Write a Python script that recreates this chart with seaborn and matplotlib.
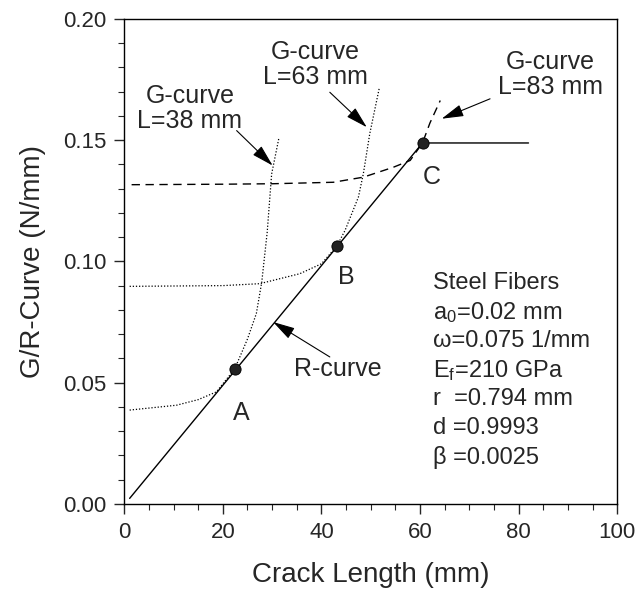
import numpy as np
import pandas as pd
import seaborn as sns
import matplotlib.pyplot as plt
from matplotlib.ticker import MultipleLocator, FormatStrFormatter

# R-curve (solid) and its plateau
r_x = [1.1, 60.5, 82.0]
r_y = [0.0023, 0.1488, 0.1488]

# G-curves
g38_x = [1.1, 10.6, 15.0, 18.7, 22.4, 25.0, 26.8, 27.9, 29.0, 29.9, 31.4]
g38_y = [0.0387, 0.0407, 0.0430, 0.0462, 0.0556, 0.0680, 0.0785, 0.0915, 0.112, 0.136, 0.1511]
g63_x = [1.1, 20.0, 27.5, 35.6, 40.0, 43.1, 44.8, 47.5, 48.5, 49.8, 51.7]
g63_y = [0.0897, 0.0900, 0.0908, 0.0949, 0.0990, 0.1062, 0.1128, 0.1265, 0.1361, 0.1526, 0.1711]
g83_x = [1.5, 20.0, 30.2, 42.4, 48.5, 54.6, 58.0, 60.5, 62.0, 64.1]
g83_y = [0.1316, 0.1318, 0.1320, 0.1326, 0.1347, 0.1388, 0.1416, 0.1488, 0.1570, 0.1663]

# instability points
pt_names = ["A", "B", "C"]
pt_x = [22.4, 43.1, 60.5]
pt_y = [0.0556, 0.1062, 0.1488]

params = ["Steel Fibers", "a$_0$=0.02 mm", "\u03c9=0.075 1/mm", "E$_f$=210 GPa",
          "r  =0.794 mm", "d =0.9993", "\u03b2 =0.0025"]

sns.set_style("ticks")
plt.rcParams['font.family'] = ['Liberation Sans', 'DejaVu Sans']
plt.rcParams['mathtext.fontset'] = 'custom'
plt.rcParams['mathtext.rm'] = 'Liberation Sans'
plt.rcParams['mathtext.it'] = 'Liberation Sans'

fig = plt.figure(figsize=(6.37, 6.05), dpi=100)
ax = fig.add_axes([0.195, 0.167, 0.774, 0.802])

sns.lineplot(x=r_x, y=r_y, ax=ax, color="black", lw=1.0, sort=False, estimator=None)
sns.lineplot(x=g38_x, y=g38_y, ax=ax, color="black", lw=0.9, ls=(0, (1, 1.5)), sort=False, estimator=None)
sns.lineplot(x=g63_x, y=g63_y, ax=ax, color="black", lw=0.9, ls=(0, (1, 1.5)), sort=False, estimator=None)
sns.lineplot(x=g83_x, y=g83_y, ax=ax, color="black", lw=1.0, ls=(0, (6, 4)), sort=False, estimator=None)
sns.scatterplot(x=pt_x, y=pt_y, ax=ax, color="#222222", s=65, edgecolor="black", zorder=5)

# point labels
lbl_off = [(1.4, -0.0183), (2.0, -0.0127), (1.9, -0.0141)]
for n, x, y, (dx, dy) in zip(pt_names, pt_x, pt_y, lbl_off):
    ax.text(x + dx, y + dy, n, fontsize=18, ha="center", va="center")

arrow = dict(arrowstyle="-|>,head_length=0.9,head_width=0.25", color="black", lw=0.8,
             shrinkA=0, shrinkB=0, mutation_scale=15)
ax.annotate("", xy=(30.1, 0.1395), xytext=(22.8, 0.1539), arrowprops=arrow)
ax.text(13.3, 0.1632, "G-curve\nL=38 mm", fontsize=18, ha="center", va="center", linespacing=1.05)
ax.annotate("", xy=(49.2, 0.1553), xytext=(41.7, 0.1697), arrowprops=arrow)
ax.text(38.8, 0.1810, "G-curve\nL=63 mm", fontsize=18, ha="center", va="center", linespacing=1.05)
ax.annotate("", xy=(64.4, 0.1588), xytext=(74.2, 0.1670), arrowprops=arrow)
ax.text(86.4, 0.1770, "G-curve\nL=83 mm", fontsize=18, ha="center", va="center", linespacing=1.05)
ax.annotate("", xy=(30.2, 0.0750), xytext=(41.7, 0.0606), arrowprops=arrow)
ax.text(43.4, 0.0558, "R-curve", fontsize=18, ha="center", va="center")

# parameter block
for i, s in enumerate(params):
    ax.text(62.7, 0.0910 - i * 0.01195, s, fontsize=17, ha="left", va="center")

ax.set_xlim(0, 100)
ax.set_ylim(0, 0.20)
ax.xaxis.set_major_locator(MultipleLocator(20))
ax.xaxis.set_minor_locator(MultipleLocator(5))
ax.yaxis.set_major_locator(MultipleLocator(0.05))
ax.yaxis.set_minor_locator(MultipleLocator(0.01))
ax.yaxis.set_major_formatter(FormatStrFormatter("%.2f"))
ax.tick_params(which="major", length=7, width=1, labelsize=16, pad=6)
ax.tick_params(which="minor", length=4, width=0.8)
for sp in ax.spines.values():
    sp.set_linewidth(1.0)
    sp.set_color("black")

ax.set_xlabel("Crack Length (mm)", fontsize=20, labelpad=14)
ax.set_ylabel("G/R-Curve (N/mm)", fontsize=20, labelpad=12)

fig.savefig("out.png", dpi=100, facecolor="white")
